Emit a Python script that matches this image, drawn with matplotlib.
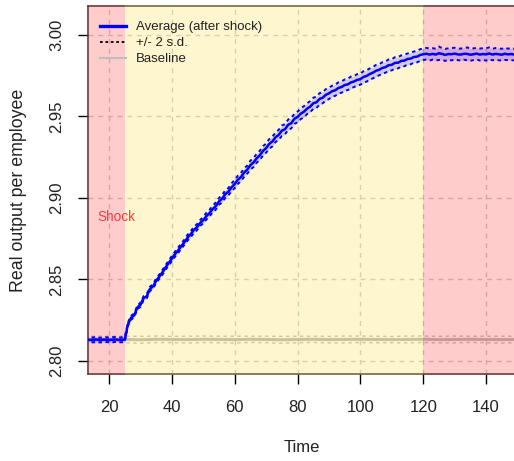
import numpy as np
import matplotlib
matplotlib.use("Agg")
import matplotlib.pyplot as plt
from matplotlib.lines import Line2D

plt.rcParams['font.family'] = ['Liberation Sans', 'DejaVu Sans']

# Simulation time steps
time = np.arange(10, 156)

# Average output per employee after the shock
avg_after_shock = np.array([
    2.8130, 2.8131, 2.8129, 2.8131, 2.8129, 2.8130, 2.8132, 2.8128,
    2.8130, 2.8131, 2.8129, 2.8130, 2.8132, 2.8129, 2.8130, 2.8131,
    2.8225, 2.8265, 2.8280, 2.8328, 2.8345, 2.8386, 2.8397, 2.8442, 2.8458, 2.8492,
    2.8518, 2.8544, 2.8574, 2.8602, 2.8628, 2.8656, 2.8679, 2.8705, 2.8729, 2.8757,
    2.8778, 2.8804, 2.8821, 2.8847, 2.8864, 2.8889, 2.8908, 2.8932, 2.8951, 2.8979,
    2.8996, 2.9024, 2.9039, 2.9066, 2.9086, 2.9112, 2.9129, 2.9156, 2.9174, 2.9202,
    2.9218, 2.9244, 2.9262, 2.9289, 2.9306, 2.9332, 2.9347, 2.9373, 2.9387, 2.9413,
    2.9422, 2.9449, 2.9459, 2.9486, 2.9497, 2.9517, 2.9529, 2.9548, 2.9560, 2.9581,
    2.9587, 2.9608, 2.9615, 2.9633, 2.9642, 2.9655, 2.9661, 2.9675, 2.9681, 2.9693,
    2.9697, 2.9709, 2.9715, 2.9725, 2.9729, 2.9743, 2.9749, 2.9761, 2.9769, 2.9781,
    2.9787, 2.9798, 2.9803, 2.9815, 2.9817, 2.9829, 2.9830, 2.9841, 2.9843, 2.9853,
    2.9855, 2.9865, 2.9867, 2.9877, 2.9882,
    2.9885, 2.9880, 2.9884, 2.9880, 2.9888, 2.9884, 2.9878, 2.9883, 2.9882, 2.9886,
    2.9881, 2.9880, 2.9885, 2.9884, 2.9879, 2.9882, 2.9886, 2.9880, 2.9883, 2.9881,
    2.9887, 2.9880, 2.9884, 2.9882, 2.9879, 2.9885, 2.9881, 2.9883, 2.9880, 2.9884,
    2.9882, 2.9885, 2.9880, 2.9883, 2.9881,
])

# Two standard deviations around the average
two_sd = np.array([
    0.0015, 0.0014, 0.0016, 0.0015, 0.0013, 0.0015, 0.0016, 0.0014,
    0.0015, 0.0015, 0.0014, 0.0016, 0.0015, 0.0014, 0.0015, 0.0015,
    0.0011, 0.0012, 0.0012, 0.0011, 0.0013, 0.0012, 0.0013, 0.0013, 0.0014, 0.0014,
    0.0013, 0.0015, 0.0014, 0.0015, 0.0016,
    0.0016, 0.0017, 0.0017, 0.0016, 0.0018, 0.0018, 0.0019, 0.0019, 0.0018, 0.0020,
    0.0021, 0.0020, 0.0021, 0.0022, 0.0021, 0.0023, 0.0023, 0.0022, 0.0024, 0.0025,
    0.0025, 0.0026, 0.0026, 0.0025, 0.0027, 0.0028, 0.0027, 0.0028, 0.0029, 0.0028,
    0.0030, 0.0030, 0.0029, 0.0031, 0.0032, 0.0031, 0.0032, 0.0032, 0.0031, 0.0033,
    0.0033, 0.0034, 0.0033, 0.0034, 0.0034, 0.0035, 0.0035, 0.0034, 0.0035, 0.0035,
    0.0034, 0.0034, 0.0035, 0.0035, 0.0034, 0.0035, 0.0036, 0.0034, 0.0035, 0.0034,
    0.0035, 0.0035, 0.0034, 0.0035, 0.0036, 0.0034, 0.0035, 0.0034, 0.0035, 0.0034,
    0.0035, 0.0035, 0.0034, 0.0035, 0.0034, 0.0035, 0.0034, 0.0035, 0.0036, 0.0035,
    0.0036, 0.0037, 0.0035, 0.0036, 0.0041, 0.0036, 0.0037, 0.0035, 0.0038, 0.0036,
    0.0035, 0.0037, 0.0036, 0.0040, 0.0037, 0.0036, 0.0035, 0.0037, 0.0036, 0.0038,
    0.0037, 0.0035, 0.0036, 0.0037, 0.0036, 0.0038, 0.0035, 0.0037, 0.0036, 0.0037,
    0.0035, 0.0036, 0.0037, 0.0036, 0.0038,
])

# Baseline run without the shock
base_time = np.arange(10, 156, 5)
baseline = np.array([
    2.8132, 2.8131, 2.8133, 2.8132, 2.8130, 2.8133, 2.8132, 2.8131, 2.8133, 2.8132,
    2.8131, 2.8133, 2.8132, 2.8130, 2.8132, 2.8133, 2.8131, 2.8132, 2.8133, 2.8132,
    2.8131, 2.8132, 2.8133, 2.8131, 2.8132, 2.8133, 2.8132, 2.8131, 2.8132, 2.8133,
])
baseline_two_sd = np.array([
    0.0020, 0.0021, 0.0019, 0.0020, 0.0021, 0.0020, 0.0019, 0.0021, 0.0020, 0.0020,
    0.0021, 0.0019, 0.0020, 0.0021, 0.0020, 0.0019, 0.0020, 0.0021, 0.0020, 0.0020,
    0.0019, 0.0021, 0.0020, 0.0020, 0.0021, 0.0019, 0.0020, 0.0021, 0.0020, 0.0020,
])

shock_start = 25
shock_end = 120
x_ticks = [20, 40, 60, 80, 100, 120, 140]
y_ticks = [2.80, 2.85, 2.90, 2.95, 3.00]
xlim = (13.3, 158.0)
ylim = (2.792, 3.0178)

W, H = 514, 461
AX_W_PX = 542.6 - 88
fig = plt.figure(figsize=(W / 100, H / 100), dpi=100)
ax = fig.add_axes([88 / W, 1 - 374 / H, AX_W_PX / W, 368 / H])
ax.set_xlim(*xlim)
ax.set_ylim(*ylim)

# grid (under the shading)
for xv in x_ticks:
    ax.axvline(xv, color='#cfcfcf', lw=1.0, ls=(0, (3.5, 3.5)), zorder=0.5)
for yv in y_ticks:
    ax.axhline(yv, color='#cfcfcf', lw=1.0, ls=(0, (3.5, 3.5)), zorder=0.5)

# baseline, drawn under the shading
ax.plot(base_time, baseline, color='#bebebe', lw=2.2, zorder=0.8)
ax.plot(base_time, baseline + baseline_two_sd, color='#c4c4c4', lw=1.0,
        ls=(0, (2.5, 2.5)), zorder=0.8)
ax.plot(base_time, baseline - baseline_two_sd, color='#c4c4c4', lw=1.0,
        ls=(0, (2.5, 2.5)), zorder=0.8)

# shaded periods, laid over the frame so it takes their tint
pink = (1.0, 0.0, 0.0, 0.2)
cream = (0.99, 0.84, 0.05, 0.2)
ax.axvspan(xlim[0] - 0.4, shock_start, ymin=-0.004, ymax=1.004, color=pink,
           lw=0, zorder=3, clip_on=False)
ax.axvspan(shock_start, shock_end, ymin=-0.004, ymax=1.004, color=cream,
           lw=0, zorder=3, clip_on=False)
ax.axvspan(shock_end, xlim[1] + 5, ymin=-0.004, ymax=1.004, color=pink,
           lw=0, zorder=3, clip_on=False)

# average after shock with +/- 2 s.d. band
upper = avg_after_shock + two_sd
lower = avg_after_shock - two_sd
ax.fill_between(time, lower, upper, color=(0.0, 0.0, 1.0, 0.17), lw=0, zorder=4)
ax.plot(time, upper, color='#0000ff', lw=1.4, ls=(0, (1.8, 1.8)), zorder=5)
ax.plot(time, lower, color='#0000ff', lw=1.4, ls=(0, (1.8, 1.8)), zorder=5)
ax.plot(time, avg_after_shock, color='#0000ff', lw=1.8, zorder=6)

ax.text(16.3, 2.8885, 'Shock', color='#ff3a3a', fontsize=9.8, ha='left',
        va='center', zorder=7)

for sp in ax.spines.values():
    sp.set_color('#404040')
    sp.set_linewidth(1.1)

ax.set_xticks(x_ticks)
ax.set_yticks(y_ticks)
ax.set_xticklabels([str(v) for v in x_ticks])
ax.set_yticklabels([f'{v:.2f}' for v in y_ticks], rotation=90, va='center')
ax.tick_params(axis='both', direction='out', length=7.2, width=1.0,
               colors='black', labelsize=12, labelcolor='#222222')
ax.tick_params(axis='x', pad=11.5)
ax.tick_params(axis='y', pad=10.0)

ax.set_xlabel('Time', fontsize=12, color='#222222')
ax.xaxis.set_label_coords((301.5 - 88) / AX_W_PX, -(447 - 374) / 368)
ax.set_ylabel('Real output per employee', fontsize=12.8, color='#222222')
ax.yaxis.set_label_coords(-(88 - 19) / AX_W_PX, 0.5)
ax.yaxis.label.set_va('center')
ax.xaxis.label.set_va('center')

handles = [
    Line2D([], [], color='#0000ff', lw=2.4),
    Line2D([], [], color='black', lw=1.3, ls=(0, (1.5, 1.5))),
    Line2D([], [], color='#bebebe', lw=1.5),
]
labels = ['Average (after shock)', '+/- 2 s.d.', 'Baseline']
leg = ax.legend(handles, labels, loc='upper left',
                bbox_to_anchor=(12 / AX_W_PX, 1 - 15 / 368),
                frameon=False, fontsize=9.5, handlelength=2.0,
                handletextpad=0.75, labelspacing=0.29, borderpad=0,
                borderaxespad=0)
leg.set_zorder(8)
for t in leg.get_texts():
    t.set_color('#222222')

fig.savefig('out.png', dpi=100)
